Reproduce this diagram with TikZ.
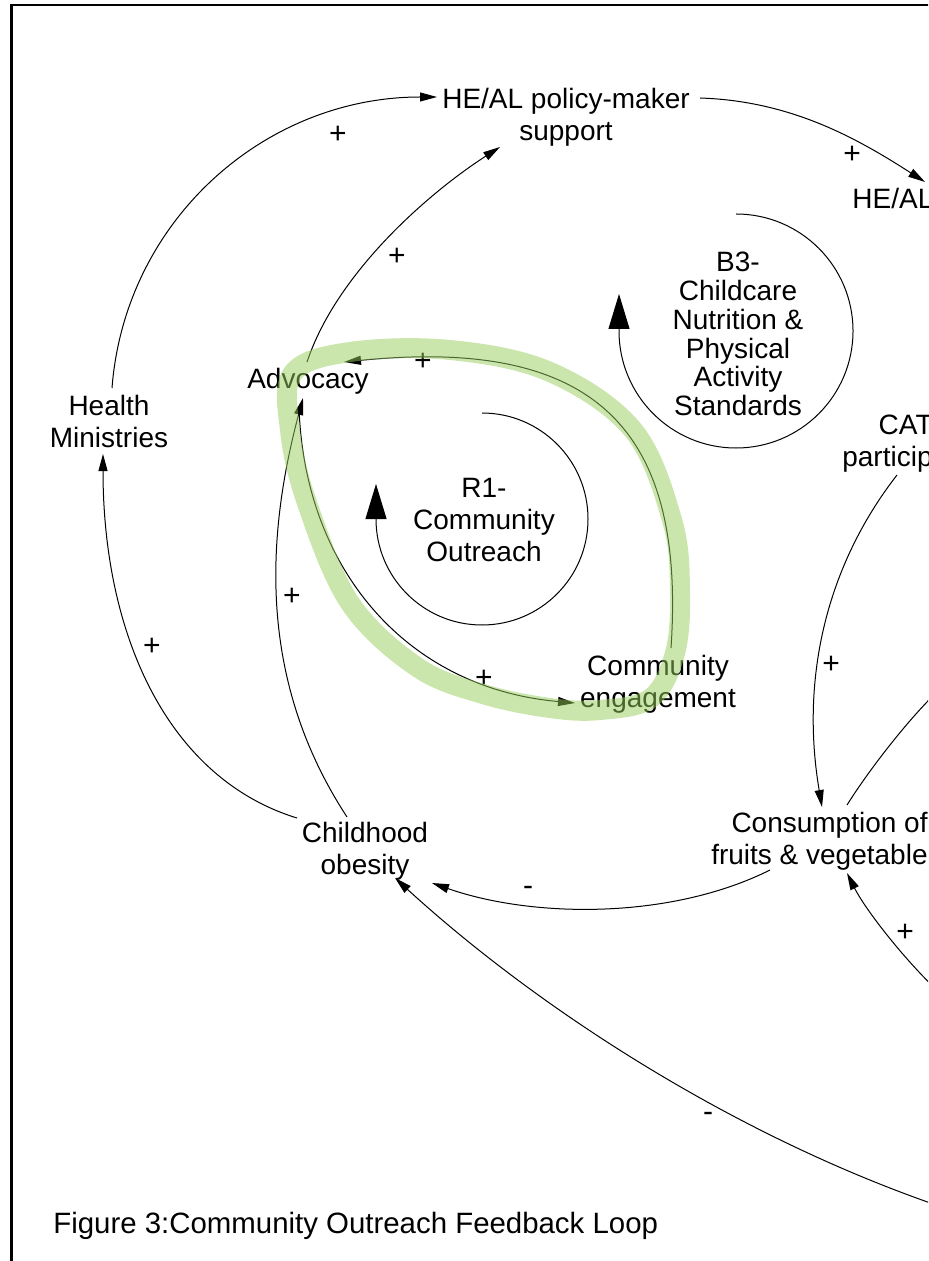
\documentclass[tikz,border=0pt]{standalone}
\usepackage{fontspec}
\setmainfont{Liberation Sans}
\usetikzlibrary{arrows.meta,calc}
\definecolor{hlgreen}{RGB}{150,205,90}
\begin{document}
\begin{tikzpicture}[x=0.5pt,y=-0.5pt,
  var/.style={font=\fontsize{14}{16}\selectfont, align=center, inner sep=0pt},
  sgn/.style={font=\fontsize{15}{16}\selectfont, inner sep=0pt},
  cldline/.style={line width=0.5pt},
  cldlink/.style={line width=0.5pt, -{Triangle[length=8.5pt,width=4.5pt]}},
  cldloopar/.style={line width=0.5pt, -{Triangle[length=17.5pt,width=10.5pt]}},
  hl/.style={line width=10pt, draw=hlgreen, opacity=0.5, line join=round}]
\useasboundingbox (0,0) rectangle (928,1261);
\clip (0,0) rectangle (928,1261);

% outer frame
\draw[line width=1.15pt] (11.5,5) rectangle (1100,1400);

% variables
\node[var] (pm) at (566,117) {HE/AL policy-maker\\support};
\node[var, anchor=west] (heal) at (852,198) {HE/AL};
\node[var] (adv) at (308,381) {Advocacy};
\node[var] (hm) at (109,421) {Health\\Ministries};
\node[var, align=right, anchor=east] (cat) at (933,444) {CAT\\particip};
\node[var] (ce) at (658,684) {Community\\engagement};
\node[var, align=right, anchor=east] (cons) at (928,841) {Consumption of\\fruits \& vegetable};
\node[var] (ch) at (365,851) {Childhood\\obesity};

% loop labels
\node[var] (r1) at (484,520) {R1-\\Community\\Outreach};
\node[var, font=\fontsize{14}{14.4}\selectfont] (b3) at (738,334) {B3-\\Childcare\\Nutrition \&\\Physical\\Activity\\Standards};

% caption
\node[anchor=west, font=\fontsize{14.7}{17}\selectfont, inner sep=0pt] (cap) at (53,1226) {Figure 3:Community Outreach Feedback Loop};

% loop symbols
\draw[cldloopar] ($(r1)+(-2,-107)$) arc[start angle=-90, end angle=180, radius=106] -- ++(0,-35);
\draw[cldloopar] ($(b3)+(-2,-120)$) arc[start angle=-90, end angle=180, radius=117] -- ++(0,-37);

% causal links
\draw[cldlink] ($(hm)+(3,-33)$) .. controls +(13,-168) and +(-172,0) .. ($(pm)+(-129,-20)$);
\draw[cldlink] ($(adv)+(-1,-19)$) .. controls +(30,-90) and +(-70,45) .. ($(pm)+(-66,30)$);
\draw[cldlink] ($(pm)+(134,-19)$) .. controls +(90,3) and +(-70,-45) .. ($(heal.west)+(73,-16)$);
\draw[cldlink] ($(ce)+(13,-36)$) .. controls +(15,-220) and +(250,-25) .. ($(adv)+(36,-19)$);
\draw[cldlink] ($(adv)+(-9,26)$) .. controls +(5,160) and +(-170,-15) .. ($(ce)+(-83,19)$);
\draw[cldlink] ($(ch)+(-18,-34)$) .. controls +(-85,-130) and +(-40,150) .. ($(adv)+(-5,17)$);
\draw[cldlink] ($(ch)+(-68,-33)$) .. controls +(-130,-40) and +(0,180) .. ($(hm)+(-6,33)$);
\draw[cldlink] ($(cons.east)+(-158,29)$) .. controls +(-100,50) and +(100,35) .. ($(ch)+(67,32)$);
\draw[cldlink] ($(cat.east)+(-36,31)$) .. controls +(-70,90) and +(-22,-130) .. ($(cons.east)+(-106,-34)$);

\coordinate (offA) at (960,672);
\coordinate (offB) at (960,1010);
\coordinate (offC) at (960,1213);
\draw[cldline] ($(cons.east)+(-81,-36)$) .. controls +(25,-40) and +(-35,25) .. (offA);
\draw[cldlink] (offB) .. controls +(-40,-30) and +(20,40) .. ($(cons.east)+(-81,32)$);
\draw[cldlink] (offC) .. controls +(-210,-68) and +(150,137) .. ($(ch)+(30,27)$);

% polarities
\node[sgn] (p1) at (338,135) {+};
\node[sgn] (p2) at (852,155) {+};
\node[sgn] (p3) at (397,257) {+};
\node[sgn] (p4) at (423,362) {+};
\node[sgn] (p5) at (292,597) {+};
\node[sgn] (p6) at (152,647) {+};
\node[sgn] (p7) at (484,679) {+};
\node[sgn] (p8) at (831,665) {+};
\node[sgn] (p9) at (528,891) {-};
\node[sgn] (p10) at (905,933) {+};
\node[sgn] (p11) at (708,1117) {-};

% highlighted reinforcing loop
\draw[hl] plot[smooth cycle, tension=0.6] coordinates {(293,373) (350,352) (450,350) (550,372) (633,430) (672,520) (680,590) (675,653) (651,698) (600,710) (550,708) (483,694) (417,667) (350,603) (307,503) (290,430)};
\end{tikzpicture}
\end{document}
